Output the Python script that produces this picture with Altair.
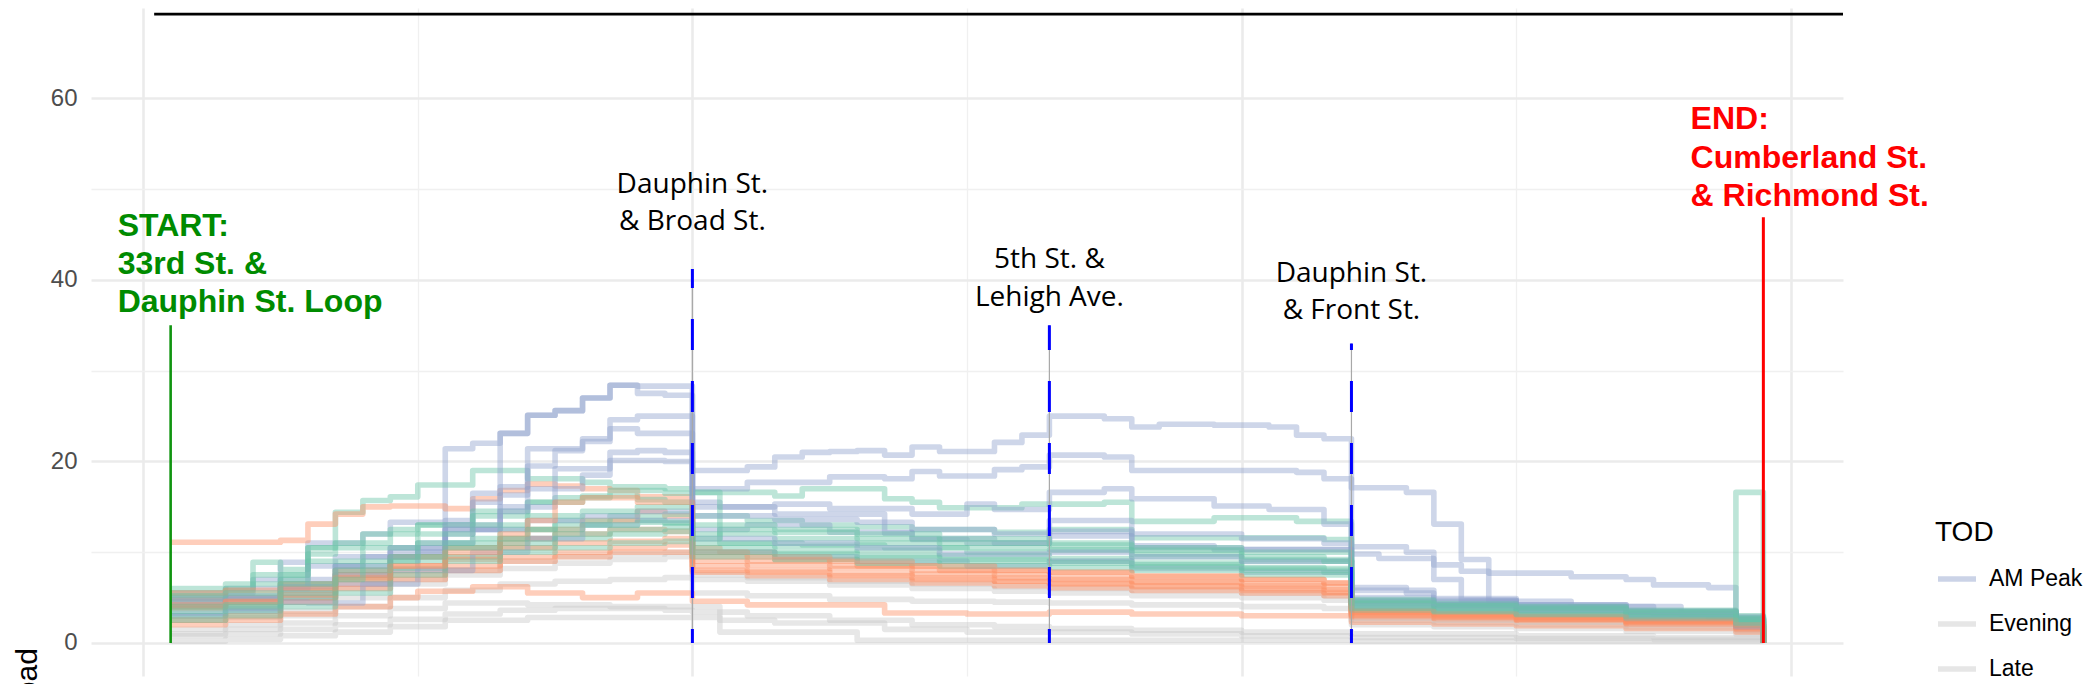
import altair as alt
import pandas as pd

TOD_ORDER = ["AM Peak", "Evening", "Late", "Midday", "PM Peak"]
TOD_COLORS = ["#8da0cb", "#c8c8c8", "#c8c8c8", "#66c2a5", "#fc8d62"]

# each trip: list of (stop, load) change points (step-after)
AM_PEAK_TRIPS = [
    [(1,4.5),(3,5.5),(4,7.0),(5,8.9),(6,11.0),(8,12.0),(9,13.3),(11,21.4),(12,22.0),(13,23.1),(14,25.1),(15,25.6),(16,27.0),(17,28.4),(18,28.3),
     (20,19.0),(22,19.4),(23,20.5),(24,21.0),(25,21.1),(26,21.2),(27,20.7),(28,21.6),(29,21.1),(31,22.1),(32,22.9),(33,25.0),(35,24.7),(36,23.8),(37,24.1),(39,24.0),(41,23.8),(42,22.9),(43,22.5),
     (44,17.1),(46,16.6),(47,13.1),(48,9.2),(49,7.7),(52,7.3),(54,7.0),(55,6.4),(57,6.1),(58,2.9),(59,0)],
    [(1,5.5),(3,6.0),(5,7.0),(7,9.5),(9,10.5),(11,13.5),(12,16.5),(13,23.1),(14,25.1),(15,25.6),(16,27.0),(17,28.4),(18,27.5),(19,27.3),
     (20,17.0),(22,17.7),(25,18.3),(27,18.1),(28,18.9),(29,18.4),(31,19.1),(32,19.4),(33,20.7),(35,20.5),(36,19.0),(42,18.8),(43,18.1),
     (44,10.6),(46,10.0),(47,7.0),(48,4.7),(50,4.2),(54,3.5),(58,2.6),(59,0)],
    [(1,5.0),(3,5.2),(5,6.5),(7,8.0),(9,10.0),(11,12.0),(12,15.5),(13,17.2),(14,21.4),(16,22.5),(17,24.6),(18,25.0),
     (20,15.5),(21,15.0),(23,15.3),(25,14.8),(28,14.2),(30,15.3),(31,14.7),(33,16.6),(35,17.0),(36,15.9),(39,15.1),(41,14.7),(43,13.1),
     (44,9.8),(45,9.3),(47,8.6),(48,7.9),(49,4.6),(52,4.0),(56,3.2),(58,2.5),(59,0)],
    [(1,4.0),(3,4.5),(5,5.5),(7,7.5),(9,9.5),(11,12.5),(13,16.3),(14,19.5),(15,21.2),(16,22.2),(17,23.6),(18,23.1),
     (20,15.0),(23,14.2),(27,12.1),(28,11.4),(30,11.0),(33,12.3),(36,10.7),(39,10.3),
     (44,6.1),(46,5.5),(47,4.7),(50,4.0),(55,3.2),(58,2.4),(59,0)],
    [(1,3.0),(3,3.5),(5,5.0),(7,6.5),(9,8.0),(10,10.0),(11,12.5),(13,15.0),(15,19.2),(17,21.0),(18,21.2),(19,21.0),
     (20,12.5),(22,13.0),(25,12.2),(28,11.5),(31,11.0),(33,11.8),(36,10.5),(40,10.3),
     (44,5.0),(47,4.3),(50,3.8),(54,3.2),(58,2.2),(59,0)],
    [(1,4.8),(3,5.0),(5,6.2),(7,8.5),(9,10.5),(11,13.0),(13,14.5),(14,17.0),(16,18.5),(17,20.1),(19,20.0),
     (20,14.0),(23,13.6),(26,13.3),(28,12.5),(31,12.0),(33,13.5),(36,12.0),(40,11.5),(43,11.0),
     (44,5.8),(47,4.9),(50,4.2),(54,3.5),(58,2.8),(59,0)],
    [(1,4.2),(3,4.8),(5,6.0),(6,8.5),(8,9.5),(10,11.0),(12,12.5),(14,13.5),(16,14.0),(18,14.5),
     (20,11.5),(23,11.0),(26,10.5),(29,9.8),(33,10.0),(36,9.5),(40,9.0),
     (44,4.6),(47,4.2),(50,3.6),(54,3.0),(58,2.0),(59,0)],
    [(1,3.3),(3,3.8),(5,4.5),(6,4.4),(8,6.5),(10,8.0),(12,10.0),(14,11.5),(16,13.0),(18,13.5),
     (20,10.0),(23,9.5),(26,9.0),(30,8.5),(33,9.0),(36,8.2),(40,7.8),
     (44,4.0),(47,3.6),(50,3.2),(54,2.7),(58,1.8),(59,0)],
]

EVENING_TRIPS = [
    [(1,1.5),(3,2.0),(5,3.0),(7,4.0),(9,5.0),(11,5.8),(13,6.5),(15,6.8),(17,7.0),(19,7.2),
     (20,5.5),(22,5.2),(25,4.8),(28,4.6),(31,4.5),(33,4.4),(36,4.2),(40,4.0),(43,3.8),
     (44,2.0),(47,1.8),(50,1.6),(54,1.3),(58,1.0),(59,0)],
    [(1,2.5),(3,2.8),(5,3.5),(7,5.0),(9,6.5),(11,7.5),(13,8.2),(15,8.8),(17,9.2),(19,9.5),
     (20,7.0),(22,6.8),(25,6.4),(28,6.0),(31,5.7),(33,5.5),(36,5.2),(40,5.0),(43,4.7),
     (44,2.5),(47,2.3),(50,2.1),(54,1.8),(58,1.3),(59,0)],
    [(1,3.0),(3,3.5),(5,4.5),(7,6.0),(9,7.0),(11,8.0),(13,9.0),(15,9.5),(17,9.8),(19,10.0),
     (20,7.5),(22,7.2),(25,6.8),(28,6.5),(31,6.2),(33,6.0),(36,5.8),(40,5.5),(43,5.2),
     (44,2.7),(47,2.5),(50,2.3),(54,2.0),(58,1.5),(59,0)],
]

LATE_TRIPS = [
    [(1,0.2),(3,0.4),(5,0.8),(7,1.2),(9,1.8),(11,2.5),(14,2.8),(20,2.8),(21,1.2),(26,0.3),(44,0.2),(59,0)],
    [(1,1.0),(3,1.5),(5,2.2),(7,3.0),(9,3.8),(11,4.4),(14,4.2),(17,4.0),(20,4.0),(21,2.5),(23,2.2),(27,1.5),(30,1.2),(36,1.0),(40,0.8),(44,0.6),(50,0.5),(55,0.4),(59,0)],
    [(1,0.8),(3,1.0),(5,1.5),(7,2.0),(9,2.6),(11,3.2),(13,3.6),(15,3.8),(19,3.6),(20,3.4),(22,3.0),(25,2.5),(28,2.0),(31,1.8),(33,1.6),(36,1.4),(40,1.2),(44,1.0),(50,0.8),(55,0.6),(59,0)],
]

MIDDAY_TRIPS = [
    [(1,5.0),(3,5.8),(4,8.9),(5,8.1),(6,10.5),(7,14.4),(8,15.7),(9,16.1),(10,17.4),(12,19.0),(14,18.1),(16,17.7),(17,17.2),(19,17.0),
     (20,16.6),(23,16.2),(24,17.0),(27,15.9),(28,15.5),(29,14.9),(32,15.3),(35,15.5),(36,13.4),(39,13.8),(42,13.4),
     (44,4.8),(47,4.5),(50,4.0),(54,3.5),(58,3.0),(59,0)],
    [(1,4.0),(3,4.5),(5,6.0),(7,7.5),(9,9.0),(11,10.5),(13,11.5),(15,13.0),(17,13.5),(19,13.2),
     (20,11.0),(23,10.6),(26,10.2),(29,9.6),(33,9.3),(36,8.8),(40,8.3),(43,7.8),
     (44,4.3),(47,4.0),(50,3.7),(54,3.3),(57,2.8),(58,16.6),(59,0)],
    [(1,5.5),(3,6.0),(4,7.5),(6,9.8),(7,11.0),(9,12.5),(10,13.0),(12,14.0),(14,15.5),(16,16.2),(18,15.8),(19,15.5),
     (20,14.0),(22,13.5),(24,13.0),(26,12.8),(28,12.5),(31,12.2),(33,12.5),(36,11.6),(43,11.4),
     (44,4.6),(47,4.2),(50,3.9),(54,3.4),(58,2.7),(59,0)],
    [(1,6.0),(3,6.5),(5,7.5),(6,10.5),(8,12.0),(10,13.0),(12,14.5),(14,15.5),(15,16.0),(17,16.8),(19,16.5),
     (20,16.6),(21,11.0),(24,10.8),(27,10.5),(30,10.0),(33,10.2),(36,9.5),(40,9.0),
     (44,4.4),(47,4.1),(50,3.8),(54,3.3),(58,2.6),(59,0)],
    [(1,4.5),(3,5.0),(5,6.5),(7,8.5),(9,9.5),(11,11.0),(13,12.5),(15,13.5),(17,14.0),(19,14.2),
     (20,12.0),(23,11.5),(26,11.0),(29,10.5),(33,10.3),(36,9.8),(40,9.2),
     (44,4.2),(47,3.9),(50,3.6),(54,3.2),(58,2.5),(59,0)],
    [(1,3.0),(3,3.6),(5,5.0),(7,7.0),(9,8.2),(11,9.5),(13,10.5),(15,11.5),(17,12.0),(19,12.3),
     (20,10.5),(23,10.0),(26,9.6),(29,9.2),(33,9.0),(36,8.6),(40,8.2),
     (44,3.9),(47,3.6),(50,3.4),(54,3.0),(58,2.3),(59,0)],
    [(1,5.2),(3,5.5),(5,7.0),(6,9.0),(8,10.5),(10,12.0),(12,13.0),(14,14.0),(16,14.5),(18,15.0),
     (20,13.0),(23,12.5),(26,12.0),(29,11.5),(33,11.0),(36,10.5),(40,10.0),
     (44,4.7),(47,4.3),(50,4.0),(54,3.6),(58,2.8),(59,0)],
    [(1,2.5),(3,3.0),(5,4.0),(7,5.5),(9,7.5),(11,9.0),(13,10.0),(15,10.5),(17,11.0),(19,11.2),
     (20,9.5),(23,9.2),(26,8.8),(29,8.5),(33,8.3),(36,8.0),(40,7.5),
     (44,3.6),(47,3.4),(50,3.1),(54,2.7),(58,2.0),(59,0)],
    [(1,4.0),(3,4.2),(5,5.5),(7,7.0),(8,9.0),(10,11.0),(12,11.5),(14,12.5),(16,13.0),(18,13.3),
     (20,11.5),(21,12.5),(23,12.2),(26,11.5),(29,11.0),(33,10.8),(36,10.2),(40,9.5),(43,9.0),
     (44,4.4),(47,4.1),(50,3.8),(54,3.4),(58,2.6),(59,0)],
    [(1,3.5),(3,4.0),(5,6.5),(7,8.0),(9,9.5),(11,10.5),(13,11.0),(15,12.0),(17,12.5),(19,12.8),
     (20,10.0),(23,9.8),(26,9.4),(29,9.0),(33,8.8),(36,8.4),(40,8.0),
     (44,3.8),(47,3.5),(50,3.2),(54,2.9),(58,2.2),(59,0)],
]

PM_PEAK_TRIPS = [
    [(1,11.1),(5,11.3),(6,13.1),(7,14.2),(8,15.0),(9,15.1),(11,14.8),(12,15.9),(13,16.8),(14,17.5),(15,17.3),(16,17.0),(17,16.8),(18,16.1),
     (20,10.5),(21,10.0),(23,9.2),(26,8.5),(29,8.0),(33,7.8),(36,7.3),(40,7.0),(43,6.6),
     (44,3.6),(47,3.3),(50,3.0),(54,2.6),(58,2.0),(59,0)],
    [(1,2.0),(3,2.5),(5,3.2),(7,4.0),(9,5.0),(10,5.7),(12,6.2),(14,5.5),(16,5.0),(18,5.5),
     (20,4.6),(22,4.2),(27,3.3),(30,3.2),(33,3.4),(36,3.2),(40,3.0),
     (44,2.3),(47,2.1),(50,1.9),(54,1.6),(58,1.2),(59,0)],
    [(1,4.8),(3,5.0),(5,5.8),(7,7.5),(9,8.0),(11,9.5),(13,11.0),(14,12.5),(16,13.5),(18,14.5),(19,14.0),
     (20,9.5),(22,9.0),(25,8.5),(28,8.0),(31,7.5),(33,7.2),(36,6.8),(40,6.5),(43,6.2),
     (44,3.4),(47,3.1),(50,2.8),(54,2.4),(58,1.8),(59,0)],
    [(1,3.8),(3,4.0),(5,5.0),(7,6.5),(9,7.5),(11,8.5),(13,9.5),(15,10.0),(17,10.5),(19,10.8),
     (20,8.5),(22,8.0),(25,7.6),(28,7.2),(31,6.8),(33,6.6),(36,6.3),(40,6.0),(43,5.6),
     (44,3.1),(47,2.9),(50,2.6),(54,2.3),(58,1.7),(59,0)],
    [(1,5.5),(3,5.8),(5,6.5),(7,8.0),(9,9.5),(11,10.5),(13,11.5),(15,12.0),(17,12.5),(19,12.3),
     (20,9.0),(22,8.6),(25,8.2),(28,7.6),(31,7.2),(33,7.0),(36,6.7),(40,6.3),(43,5.9),
     (44,3.3),(47,3.0),(50,2.7),(54,2.4),(58,1.9),(59,0)],
    [(1,2.5),(3,3.0),(5,4.5),(7,6.0),(9,7.0),(11,8.0),(13,9.0),(15,9.5),(17,10.0),(19,10.0),
     (20,7.8),(22,7.4),(25,7.0),(28,6.6),(31,6.3),(33,6.1),(36,5.8),(40,5.5),(43,5.2),
     (44,2.9),(47,2.7),(50,2.5),(54,2.1),(58,1.6),(59,0)],
    [(1,4.2),(3,4.5),(5,5.3),(7,7.0),(9,8.5),(11,9.2),(13,10.5),(15,11.0),(17,11.2),(19,11.5),
     (20,8.0),(22,7.8),(25,7.4),(28,7.0),(31,6.8),(33,6.5),(36,6.2),(40,5.8),(43,5.5),
     (44,3.0),(47,2.8),(50,2.6),(54,2.2),(58,1.5),(59,0)],
    [(1,4.0),(3,4.6),(5,6.0),(7,7.2),(9,8.5),(11,10.0),(13,12.0),(14,13.5),(15,15.5),(16,16.0),(18,15.5),
     (20,10.0),(22,9.5),(25,9.0),(28,8.5),(31,8.0),(33,7.8),(36,7.4),(40,7.0),(43,6.6),
     (44,3.5),(47,3.2),(50,2.9),(54,2.5),(58,2.0),(59,0)],
]

# annotations
STATION_STOPS = [20, 33, 44]
STATION_TOPS = [41.2, 35.0, 33.0]
STATION_NAMES = ["Dauphin St.\n& Broad St.", "5th St. &\nLehigh Ave.", "Dauphin St.\n& Front St."]
STATION_LABEL_Y = [49.6, 41.3, 39.8]

START_STOP, START_TOP = 1, 35.0
START_TEXT = "START:\n33rd St. &\nDauphin St. Loop"
START_LABEL_X, START_LABEL_Y = -0.93, 44.9

END_STOP, END_TOP = 59, 46.9
END_TEXT = "END:\nCumberland St.\n& Richmond St."
END_LABEL_X, END_LABEL_Y = 56.35, 56.6

TOP_LINE_X, TOP_LINE_X2, TOP_LINE_Y = 0.4, 61.9, 69.3

# ---------------- build data ----------------
groups = [("AM Peak", AM_PEAK_TRIPS), ("Evening", EVENING_TRIPS), ("Late", LATE_TRIPS),
          ("Midday", MIDDAY_TRIPS), ("PM Peak", PM_PEAK_TRIPS)]
rows = []
maxn = max(len(t) for _, t in groups)
for i in range(maxn):
    for tod, trips in groups:
        if i < len(trips):
            tid = f"{tod} {i + 1}"
            for s, l in trips[i]:
                rows.append({"trip": tid, "TOD": tod, "stop": s, "load": l})
df = pd.DataFrame(rows)

st = pd.DataFrame({"stop": STATION_STOPS, "base": [0] * 3, "top": STATION_TOPS,
                   "name": STATION_NAMES, "ly": STATION_LABEL_Y})
se = pd.DataFrame({"stop": [START_STOP, END_STOP], "base": [0, 0], "top": [START_TOP, END_TOP],
                   "kind": ["start", "end"]})
start_lab = pd.DataFrame({"stop": [START_LABEL_X], "load": [START_LABEL_Y], "txt": [START_TEXT]})
end_lab = pd.DataFrame({"stop": [END_LABEL_X], "load": [END_LABEL_Y], "txt": [END_TEXT]})
topline = pd.DataFrame({"stop": [TOP_LINE_X], "stop2": [TOP_LINE_X2], "load": [TOP_LINE_Y]})

XS = alt.Scale(domain=[-1.9, 61.9], nice=False, zero=False)
YS = alt.Scale(domain=[-3.64, 69.97], nice=False, zero=False)

grid_w = {"condition": {"test": "datum.value % 20 === 0", "value": 2.6}, "value": 1.3}
grid_c = {"condition": {"test": "datum.value % 20 === 0", "value": "#ebebeb"}, "value": "#f0f0f0"}

XAX = alt.Axis(values=[0, 10, 20, 30, 40, 50, 60], labels=False, ticks=False, domain=False,
               title=None, grid=True, gridWidth=grid_w, gridColor=grid_c)
YAX = alt.Axis(values=[0, 10, 20, 30, 40, 50, 60, 70],
               labelExpr="datum.value % 20 === 0 ? datum.label : ''",
               labelFontSize=24, labelFont="Liberation Sans", labelColor="#4d4d4d",
               labelPadding=14, ticks=False, tickSize=0, domain=False,
               grid=True, gridWidth=grid_w, gridColor=grid_c,
               title="Load", titleFont="Liberation Sans", titleFontSize=30, titleFontWeight="normal",
               titleColor="black", titleAngle=270, titleX=-54.5, titleY=673,
               titleAlign="center", titleBaseline="alphabetic")

LEG = alt.Legend(orient="none", legendX=1844, legendY=511, title="TOD",
                 titleFont="Liberation Sans", titleFontSize=28, titleFontWeight="normal", titleColor="black",
                 titlePadding=10, labelFont="Liberation Sans", labelFontSize=23, labelColor="black",
                 symbolType="stroke", symbolSize=1444, symbolStrokeWidth=5.5, symbolOpacity=0.45,
                 labelOffset=10, rowPadding=11, padding=0)

X = lambda f="stop": alt.X(f"{f}:Q", scale=XS, axis=XAX)
Y = lambda f="load": alt.Y(f"{f}:Q", scale=YS, axis=YAX)

lines = alt.Chart(df).mark_line(interpolate="step-after", strokeWidth=5.6, opacity=0.43,
                                strokeJoin="round", strokeCap="butt").encode(
    x=X(), y=Y(),
    color=alt.Color("TOD:N", scale=alt.Scale(domain=TOD_ORDER, range=TOD_COLORS), legend=LEG),
    detail="trip:N",
)

gray_rules = alt.Chart(st).mark_rule(color="#a8a8a8", strokeWidth=1.2).encode(
    x=X(), y=Y("base"), y2="top:Q")
blue_rules = alt.Chart(st).mark_rule(color="#0000ff", strokeWidth=3, strokeDash=[31, 31],
                                     strokeDashOffset=17).encode(x=X(), y=Y("base"), y2="top:Q")
st_text = alt.Chart(st).mark_text(align="center", baseline="alphabetic", font="Open Sans",
                                  fontSize=28, color="black", lineBreak="\n", lineHeight=37.5).encode(
    x=X(), y=Y("ly"), text="name:N")

start_rule = alt.Chart(se[se.kind == "start"]).mark_rule(color="#109410", strokeWidth=2.6).encode(
    x=X(), y=Y("base"), y2="top:Q")
end_rule = alt.Chart(se[se.kind == "end"]).mark_rule(color="#ff0000", strokeWidth=3).encode(
    x=X(), y=Y("base"), y2="top:Q")

start_text = alt.Chart(start_lab).mark_text(align="left", baseline="alphabetic", font="Liberation Sans",
                                            fontSize=32, fontWeight="bold", color="#008b00",
                                            lineBreak="\n", lineHeight=38).encode(
    x=X(), y=Y(), text="txt:N")
end_text = alt.Chart(end_lab).mark_text(align="left", baseline="alphabetic", font="Liberation Sans",
                                        fontSize=32, fontWeight="bold", color="#ff0000",
                                        lineBreak="\n", lineHeight=38.5).encode(
    x=X(), y=Y(), text="txt:N")

top_rule = alt.Chart(topline).mark_rule(color="black", strokeWidth=2.6).encode(
    x=X(), x2="stop2:Q", y=Y())

chart = alt.layer(lines, gray_rules, blue_rules, start_rule, end_rule, st_text, start_text, end_text,
                  top_rule).properties(
    width=1752, height=668,
    padding={"left": 83, "right": 240, "top": 0, "bottom": 8},
    autosize=alt.AutoSizeParams(type="none"),
    background="white",
).configure_view(stroke=None)

chart.save("out.html", embed_options={"renderer": "svg", "actions": False})
